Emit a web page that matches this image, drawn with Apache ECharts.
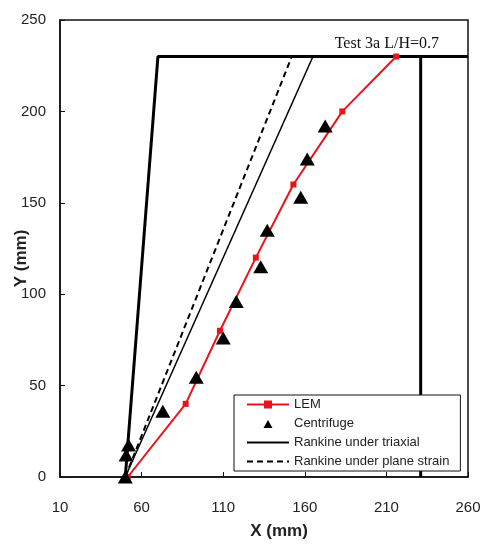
<!DOCTYPE html>
<html>
<head>
<meta charset="utf-8">
<script src="https://cdn.jsdelivr.net/npm/echarts@6/dist/echarts.min.js"></script>
<style>
  html, body { margin: 0; padding: 0; background: #fff; }
  #chart { width: 492px; height: 545px; }
</style>
</head>
<body>
<div id="chart"></div>
<script>
// data
const lemX = [51.5, 87, 108, 130, 153, 183, 216];
const lemY = [0, 40, 80, 120, 160, 200, 230];
const centX = [50, 50.5, 52, 73, 93.5, 110, 118, 133, 137, 157.5, 161.5, 172.5];
const centY = [0, 12, 17.5, 36, 54.5, 76, 96, 115, 135, 153, 174, 192];
const triaxialX = [50, 165];
const triaxialY = [0, 230];
const planeX = [50, 152];
const planeY = [0, 230];
const wallX = [50, 70, 260];
const wallY = [0, 230, 230];
const backWallX = [231, 231];
const backWallY = [0, 230];
const xTicks = [10, 60, 110, 160, 210, 260];
const yTicks = [0, 50, 100, 150, 200, 250];

function pairs(xs, ys) {
  return xs.map((x, i) => [x, ys[i]]);
}

const chart = echarts.init(document.getElementById('chart'));
const font = 'Liberation Sans, Arial, sans-serif';
// small triangle centred in a 42x10 legend box (corner moves keep the box size)
const legendTriangle = 'path://M0,0L0.01,0M42,10L42.01,10M21,1.5L25.5,9.5L16.5,9.5Z';

chart.setOption({
  animation: false,
  title: {
    text: 'Test 3a L/H=0.7',
    right: 48,
    top: 31,
    textStyle: { fontFamily: 'Liberation Serif, Times New Roman, serif', fontSize: 16, fontWeight: 'normal', color: '#111' }
  },
  grid: {
    left: 60, right: 24, top: 20, bottom: 68,
    outerBoundsMode: 'none',
    containLabel: false,
    show: true, borderColor: '#111', borderWidth: 1.5
  },
  legend: {
    orient: 'vertical',
    left: 234, top: 395,
    itemWidth: 42, itemHeight: 10, itemGap: 6,
    symbolKeepAspect: true,
    backgroundColor: '#fff',
    borderColor: '#111', borderWidth: 1,
    padding: [3, 11, 3, 12],
    textStyle: { fontFamily: font, fontSize: 13, color: '#222' },
    data: [
      { name: 'LEM' },
      { name: 'Centrifuge', icon: legendTriangle },
      { name: 'Rankine under triaxial', itemStyle: { opacity: 0 } },
      { name: 'Rankine under plane strain', itemStyle: { opacity: 0 } }
    ]
  },
  xAxis: {
    type: 'value',
    min: 10, max: 260, interval: 50,
    name: 'X (mm)',
    nameLocation: 'middle', nameGap: 46,
    nameMoveOverlap: false,
    nameTextStyle: { fontFamily: font, fontSize: 17, fontWeight: 'bold', color: '#222', padding: [0, 0, 0, 30] },
    axisLine: { show: true, lineStyle: { color: '#111', width: 1.5 } },
    axisTick: { show: true, inside: true, length: 5, lineStyle: { color: '#111' } },
    axisLabel: { fontFamily: font, fontSize: 15, color: '#222', margin: 23 },
    splitLine: { show: false }
  },
  yAxis: {
    type: 'value',
    min: 0, max: 250, interval: 50,
    name: 'Y (mm)',
    nameLocation: 'middle', nameGap: 30,
    nameMoveOverlap: false,
    nameTextStyle: { fontFamily: font, fontSize: 17, fontWeight: 'bold', color: '#222', padding: [0, 20, 0, 0] },
    axisLine: { show: true, lineStyle: { color: '#111', width: 1.5 } },
    axisTick: { show: true, inside: true, length: 5, lineStyle: { color: '#111' } },
    axisLabel: { fontFamily: font, fontSize: 15, color: '#222', margin: 14 },
    splitLine: { show: false }
  },
  series: [
    {
      name: 'wall',
      type: 'line',
      data: pairs(wallX, wallY),
      symbol: 'none',
      lineStyle: { color: '#000', width: 3 },
      z: 1
    },
    {
      name: 'back wall',
      type: 'line',
      data: pairs(backWallX, backWallY),
      symbol: 'none',
      lineStyle: { color: '#000', width: 3 },
      z: 1
    },
    {
      name: 'Rankine under triaxial',
      type: 'line',
      data: pairs(triaxialX, triaxialY),
      symbol: 'none',
      lineStyle: { color: '#000', width: 1.5 },
      itemStyle: { color: '#000' },
      z: 2
    },
    {
      name: 'Rankine under plane strain',
      type: 'line',
      data: pairs(planeX, planeY),
      symbol: 'none',
      lineStyle: { color: '#000', width: 2, type: [6, 4] },
      itemStyle: { color: '#000' },
      z: 2
    },
    {
      name: 'LEM',
      type: 'line',
      data: pairs(lemX, lemY),
      symbol: 'rect',
      symbolSize: 6,
      lineStyle: { color: '#e8141b', width: 2 },
      itemStyle: { color: '#e8141b' },
      z: 3
    },
    {
      name: 'Centrifuge',
      type: 'scatter',
      data: pairs(centX, centY),
      symbol: 'triangle',
      symbolSize: [15, 13],
      itemStyle: { color: '#000', opacity: 1 },
      z: 4
    }
  ]
});
</script>
</body>
</html>
